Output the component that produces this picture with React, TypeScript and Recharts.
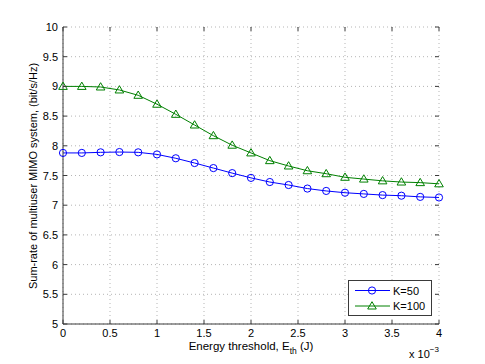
import React from 'react'
import { LineChart, Line, XAxis, YAxis, CartesianGrid } from 'recharts'

// energy threshold in units of 1e-3 J
const energyThreshold = [0, 0.2, 0.4, 0.6, 0.8, 1.0, 1.2, 1.4, 1.6, 1.8, 2.0, 2.2, 2.4, 2.6, 2.8, 3.0, 3.2, 3.4, 3.6, 3.8, 4.0]
const rateK50 = [7.88, 7.88, 7.89, 7.895, 7.89, 7.855, 7.79, 7.71, 7.625, 7.54, 7.46, 7.39, 7.34, 7.28, 7.24, 7.21, 7.19, 7.17, 7.16, 7.14, 7.13]
const rateK100 = [9.0, 9.0, 8.99, 8.94, 8.85, 8.7, 8.53, 8.35, 8.17, 8.01, 7.88, 7.75, 7.66, 7.58, 7.53, 7.47, 7.44, 7.41, 7.39, 7.38, 7.36]
const xTicks = [0, 0.5, 1, 1.5, 2, 2.5, 3, 3.5, 4]
const yTicks = [5, 5.5, 6, 6.5, 7, 7.5, 8, 8.5, 9, 9.5, 10]
const seriesNames = ['K=50', 'K=100']

const W = 485
const H = 364
const LEFT = 63
const RIGHT = 439
const TOP = 27
const BOTTOM = 324
const FONT = '"Liberation Sans", Arial, sans-serif'
const BLUE = '#0000ff'
const GREEN = '#008000'
const AXIS = '#3a3a3a'

const data = energyThreshold.map((x, i) => ({ x, k50: rateK50[i], k100: rateK100[i] }))

const Circle = ({ cx, cy }: any) => (
  <circle cx={cx} cy={cy} r={3.6} fill="none" stroke={BLUE} strokeWidth={1} />
)

const Triangle = ({ cx, cy }: any) => (
  <path
    d={`M${cx},${cy - 4.3} L${cx + 4.3},${cy + 3} L${cx - 4.3},${cy + 3} Z`}
    fill="none"
    stroke={GREEN}
    strokeWidth={1}
  />
)

const XTick = ({ x, payload }: any) => (
  <g>
    <line x1={x} x2={x} y1={BOTTOM} y2={BOTTOM - 4} stroke={AXIS} />
    <line x1={x} x2={x} y1={TOP} y2={TOP + 4} stroke={AXIS} />
    <text x={x} y={337} textAnchor="middle" fontSize={11} fontFamily={FONT} fill="#000">
      {payload.value}
    </text>
  </g>
)

const YTick = ({ y, payload }: any) => (
  <g>
    <line x1={LEFT} x2={LEFT + 4} y1={y} y2={y} stroke={AXIS} />
    <line x1={RIGHT} x2={RIGHT - 4} y1={y} y2={y} stroke={AXIS} />
    <text x={58} y={y + 4} textAnchor="end" fontSize={11} fontFamily={FONT} fill="#000">
      {payload.value}
    </text>
  </g>
)

const XLabel = () => (
  <g fontFamily={FONT} fill="#000">
    <text x={251} y={350} textAnchor="middle" fontSize={11.5}>
      Energy threshold, E<tspan fontSize={8.5} dy={4}>th</tspan>
      <tspan dy={-4}> (J)</tspan>
    </text>
    <text x={409} y={358} fontSize={11}>
      x 10<tspan fontSize={8} dy={-6}>−3</tspan>
    </text>
  </g>
)

const YLabel = () => (
  <text
    x={37}
    y={176}
    transform="rotate(-90 37 176)"
    textAnchor="middle"
    fontSize={11}
    fontFamily={FONT}
    fill="#000"
  >
    Sum-rate of multiuser MIMO system, (bit/s/Hz)
  </text>
)

function LegendBox() {
  return (
    <svg width={W} height={H} style={{ position: 'absolute', left: 0, top: 0, pointerEvents: 'none' }}>
      <rect x={348.5} y={280.5} width={83} height={35} fill="#fff" stroke={AXIS} />
      <line x1={355} x2={390} y1={290.5} y2={290.5} stroke={BLUE} />
      <Circle cx={372} cy={290.5} />
      <text x={393} y={294.5} fontSize={11} fontFamily={FONT} fill="#000">{seriesNames[0]}</text>
      <line x1={355} x2={390} y1={306} y2={306} stroke={GREEN} />
      <Triangle cx={372} cy={306} />
      <text x={393} y={310} fontSize={11} fontFamily={FONT} fill="#000">{seriesNames[1]}</text>
    </svg>
  )
}

export default function App() {
  return (
    <div style={{ position: 'absolute', left: 0, top: 0, width: W, height: H, background: '#fff' }}>
      <LineChart
        width={W}
        height={H}
        data={data}
        margin={{ top: TOP, right: W - RIGHT, left: 0, bottom: 0 }}
      >
        <CartesianGrid stroke="#b5b5b5" strokeDasharray="1 3" />
        <XAxis
          dataKey="x"
          type="number"
          domain={[0, 4]}
          ticks={xTicks}
          interval={0}
          height={H - BOTTOM}
          axisLine={{ stroke: AXIS }}
          tickLine={false}
          tick={<XTick />}
          label={<XLabel />}
        />
        <XAxis xAxisId="top" dataKey="x" type="number" domain={[0, 4]} orientation="top" height={0} tick={false} tickLine={false} axisLine={{ stroke: AXIS }} />
        <YAxis
          type="number"
          domain={[5, 10]}
          ticks={yTicks}
          interval={0}
          width={LEFT}
          axisLine={{ stroke: AXIS }}
          tickLine={false}
          tick={<YTick />}
          label={<YLabel />}
        />
        <YAxis yAxisId="right" type="number" domain={[5, 10]} orientation="right" width={0} tick={false} tickLine={false} axisLine={{ stroke: AXIS }} />
        <Line
          dataKey="k50"
          name={seriesNames[0]}
          stroke={BLUE}
          strokeWidth={1}
          dot={<Circle />}
          isAnimationActive={false}
        />
        <Line
          dataKey="k100"
          name={seriesNames[1]}
          stroke={GREEN}
          strokeWidth={1}
          dot={<Triangle />}
          isAnimationActive={false}
        />
      </LineChart>
      <LegendBox />
    </div>
  )
}
